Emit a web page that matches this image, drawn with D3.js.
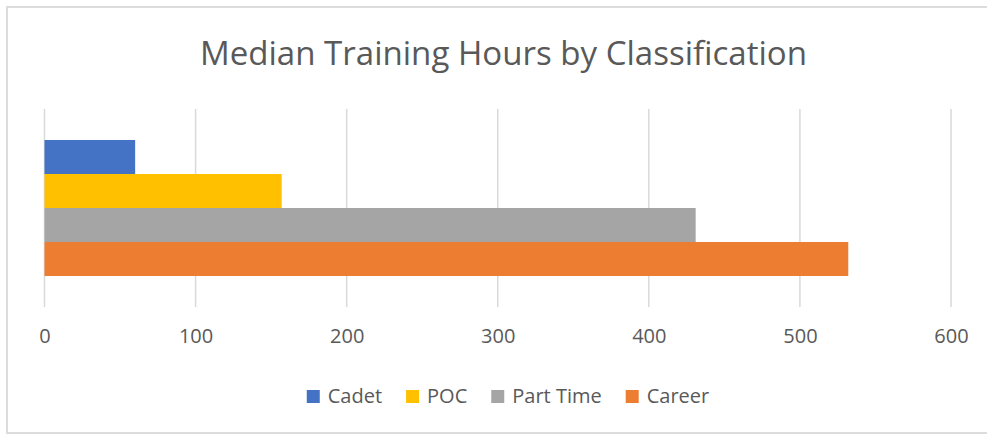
<!DOCTYPE html>
<html>
<head>
<meta charset="utf-8">
<script src="https://cdn.jsdelivr.net/npm/d3@7"></script>
<style>
  html, body { margin: 0; padding: 0; background: #fff; }
  svg { display: block; font-family: "Open Sans", "Noto Sans", sans-serif; }
</style>
</head>
<body>
<svg id="chart"></svg>
<script>
const categories = ["Median"];
const seriesNames = ["Cadet", "POC", "Part Time", "Career"];
const seriesValues = [60, 157, 431, 532];
const seriesColors = ["#4472C4", "#FFC000", "#A5A5A5", "#ED7D31"];
const tickValues = [0, 100, 200, 300, 400, 500, 600];

const W = 987, H = 434;
const plot = { left: 44.5, right: 951, top: 109, bottom: 307 };

const svg = d3.select("#chart")
  .attr("width", W)
  .attr("height", H);

svg.append("rect").attr("width", W).attr("height", H).attr("fill", "#fff");

// light frame (top, left, bottom)
svg.append("path")
  .attr("d", `M${W},7 H7 V433 H${W}`)
  .attr("fill", "none")
  .attr("stroke", "#dcdcdc")
  .attr("stroke-width", 2);

svg.append("text")
  .attr("x", 503.5)
  .attr("y", 65)
  .attr("text-anchor", "middle")
  .attr("font-size", "32px")
  .attr("textLength", 607)
  .attr("lengthAdjust", "spacingAndGlyphs")
  .attr("fill", "#595959")
  .text("Median Training Hours by Classification");

const x = d3.scaleLinear()
  .domain([0, 600])
  .range([plot.left, plot.right]);

const y0 = d3.scaleBand()
  .domain(categories)
  .range([plot.top, plot.bottom])
  .paddingInner(0)
  .paddingOuter(0.228);

const y1 = d3.scaleBand()
  .domain(seriesNames)
  .range([0, y0.bandwidth()]);

// gridlines
svg.append("g")
  .selectAll("line")
  .data(tickValues)
  .join("line")
  .attr("x1", d => x(d))
  .attr("x2", d => x(d))
  .attr("y1", plot.top)
  .attr("y2", plot.bottom)
  .attr("stroke", "#d9d9d9")
  .attr("stroke-width", 1.5);

// tick labels
const axis = svg.append("g")
  .attr("transform", `translate(0,${plot.bottom})`)
  .call(d3.axisBottom(x).tickValues(tickValues).tickSize(0).tickPadding(22));
axis.select(".domain").remove();
axis.selectAll("text")
  .attr("font-family", "'Open Sans', sans-serif")
  .attr("font-size", "20px")
  .attr("fill", "#595959");

// bars
const data = seriesNames.map((s, i) => ({ series: s, value: seriesValues[i], color: seriesColors[i] }));

svg.append("g")
  .selectAll("rect")
  .data(data)
  .join("rect")
  .attr("x", x(0))
  .attr("y", d => y0(categories[0]) + y1(d.series))
  .attr("width", d => x(d.value) - x(0))
  .attr("height", y1.bandwidth())
  .attr("fill", d => d.color);

// legend
const legend = svg.append("g");
const items = legend.selectAll("g")
  .data(data)
  .join("g");
items.append("rect")
  .attr("width", 13)
  .attr("height", 13)
  .attr("y", 390)
  .attr("fill", d => d.color);
items.append("text")
  .attr("x", 21)
  .attr("y", 403)
  .attr("font-size", "20px")
  .attr("fill", "#595959")
  .text(d => d.series);

let offset = 0;
items.each(function () {
  const g = d3.select(this);
  g.attr("transform", `translate(${offset},0)`);
  offset += 21 + g.select("text").node().getComputedTextLength() + 24;
});
const total = offset - 24;
legend.attr("transform", `translate(${508 - total / 2},0)`);
</script>
</body>
</html>
